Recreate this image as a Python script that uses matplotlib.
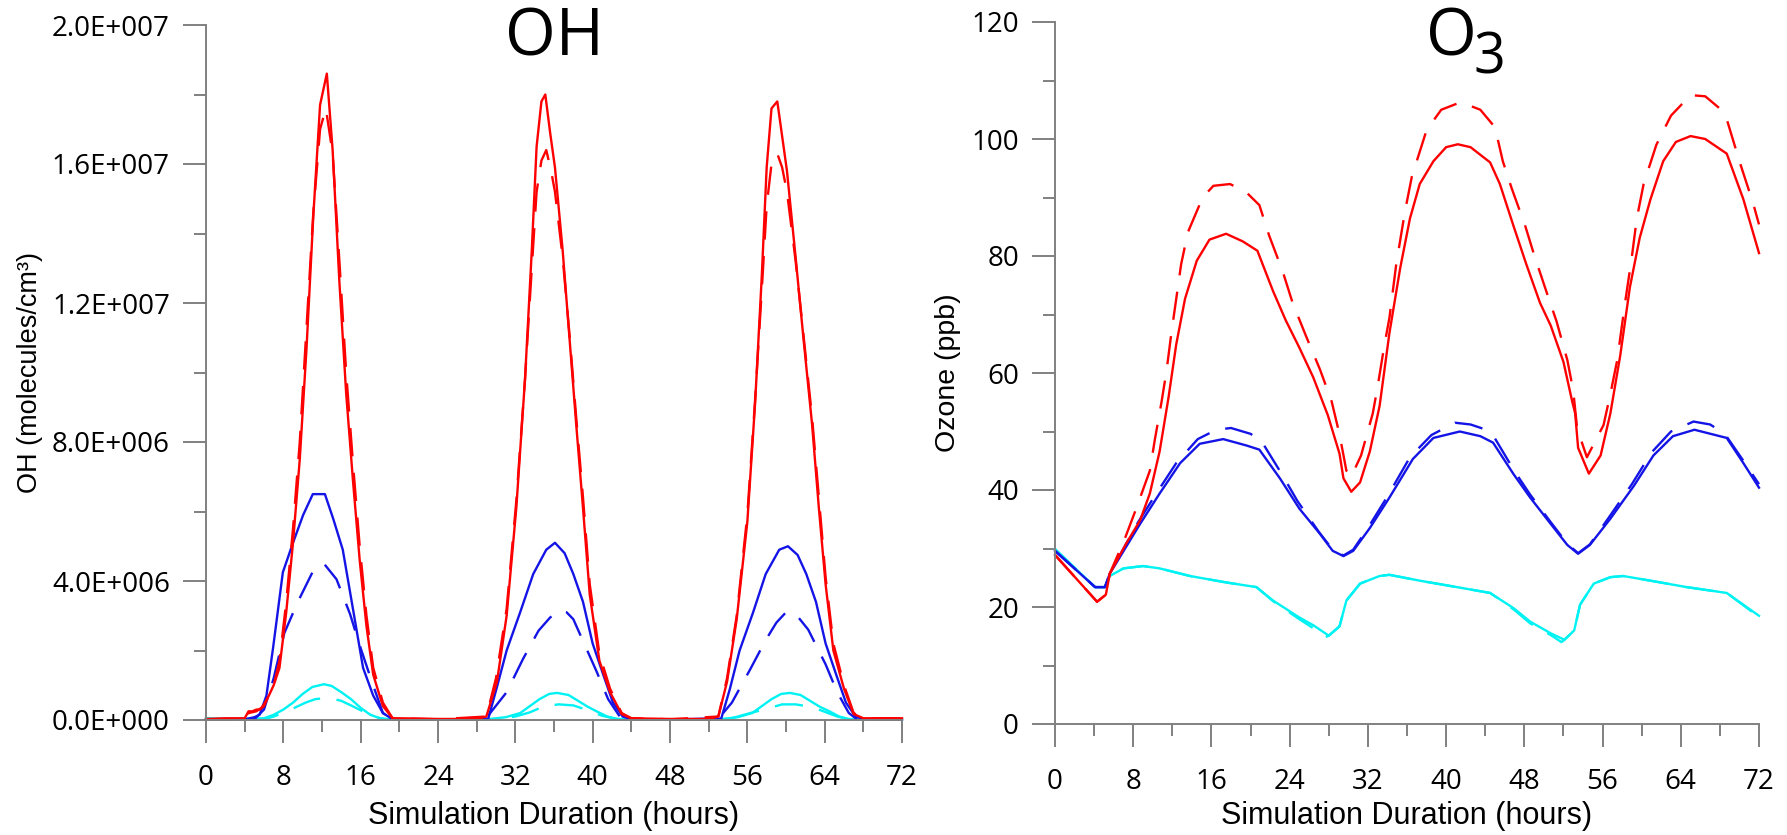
import numpy as np
import matplotlib
matplotlib.use('Agg')
import matplotlib.pyplot as plt
from matplotlib.ticker import MultipleLocator, FuncFormatter

oh_red_solid = [(0, 0.03), (2, 0.05), (4, 0.05), (4.4, 0.25), (4.8, 0.25), (5.2, 0.3), (5.6, 0.3),
                (6.0, 0.45), (6.5, 0.7), (7.0, 1.0), (7.6, 1.5), (8.3, 3.1), (9.0, 5.1), (9.7, 7.5),
                (10.4, 10.7), (11.1, 14.5), (11.8, 17.7), (12.5, 18.6), (13.1, 16.4), (13.8, 12.6),
                (14.5, 9.4), (15.2, 6.9), (15.9, 4.6), (16.6, 2.7), (17.3, 1.3), (18.3, 0.4), (19.3, 0.05),
                (20, 0.05), (24, 0.03), (28, 0.03), (29, 0.1), (30.1, 1.1), (31.1, 3.0), (32.1, 6.1),
                (33.0, 9.8), (33.7, 13.5), (34.2, 16.5), (34.7, 17.8), (35.1, 18.0), (35.6, 16.9),
                (36.1, 15.9), (36.9, 13.5), (37.6, 11.0), (38.3, 8.5), (39.0, 6.1), (39.7, 3.6),
                (40.7, 1.7), (41.8, 0.8), (43.0, 0.17), (44, 0.05), (48, 0.03), (52, 0.03), (53.0, 0.1),
                (53.9, 1.1), (54.9, 2.9), (56.0, 5.7), (56.8, 9.1), (57.5, 12.8), (58.0, 15.9), (58.5, 17.6),
                (59.1, 17.8), (59.6, 16.8), (60.1, 15.8), (61.0, 13.3), (61.8, 11.0), (62.7, 8.5),
                (63.4, 6.1), (64.1, 3.9), (64.9, 2.0), (66.0, 0.9), (67.0, 0.17), (68, 0.05), (72, 0.05)]
oh_red_dash = [(0, 0.02), (4, 0.02), (4.4, 0.2), (5.2, 0.25), (6, 0.4), (7, 1.0), (7.6, 1.7), (8.3, 3.4),
               (9, 5.5), (9.7, 8.0), (10.4, 11.3), (11.1, 14.6), (11.8, 17.0), (12.4, 17.6), (13.1, 16.3),
               (13.8, 13.2), (14.5, 10.0), (15.2, 7.4), (15.9, 5.0), (16.6, 3.0), (17.3, 1.5), (18.3, 0.5),
               (19.3, 0.05), (24, 0.02), (29, 0.1), (30, 1.2), (31.1, 3.2), (32.1, 6.3), (33, 9.8),
               (33.7, 13.0), (34.2, 15.2), (34.7, 16.1), (35.2, 16.4), (35.7, 15.8), (36.1, 15.2),
               (36.9, 13.3), (37.6, 11.1), (38.3, 8.7), (39, 6.4), (39.7, 3.9), (40.7, 1.9), (41.8, 0.9),
               (43, 0.2), (44, 0.05), (48, 0.02), (53, 0.1), (53.9, 1.2), (54.9, 3.0), (56, 5.9),
               (56.8, 9.2), (57.5, 12.4), (58, 14.8), (58.5, 16.0), (59.1, 16.3), (59.6, 15.9),
               (60.1, 15.2), (61, 13.2), (61.8, 11.1), (62.7, 8.7), (63.4, 6.4), (64.1, 4.1), (64.9, 2.2),
               (66, 1.0), (67, 0.2), (68, 0.05), (72, 0.05)]
oh_blue_solid = [(0, 0.02), (4, 0.02), (5, 0.08), (5.55, 0.15), (6.25, 0.7), (6.95, 2.1), (7.95, 4.25),
                 (9.0, 5.1), (10.05, 5.9), (11.05, 6.5), (12.3, 6.5), (13.15, 5.8), (14.15, 4.9),
                 (15.2, 3.2), (16.25, 1.5), (17.3, 0.7), (18.3, 0.2), (19.3, 0.02), (24, 0.01), (28, 0.01),
                 (29.2, 0.04), (30.05, 0.9), (31.1, 2.0), (32.5, 3.1), (33.85, 4.2), (35.2, 4.9),
                 (36.1, 5.1), (37.1, 4.8), (38.0, 4.2), (39.0, 3.4), (40.0, 2.2), (41.1, 1.3), (42.1, 0.5),
                 (43.1, 0.1), (44, 0.02), (48, 0.01), (52, 0.01), (53.3, 0.04), (54.2, 0.9), (55.2, 2.0),
                 (56.6, 3.1), (57.9, 4.2), (59.3, 4.9), (60.2, 5.0), (61.2, 4.75), (62.1, 4.2),
                 (63.1, 3.4), (64.1, 2.2), (65.2, 1.3), (66.2, 0.5), (67.2, 0.1), (68, 0.02), (72, 0.01)]
oh_blue_dash = [(0, 0.02), (5, 0.02), (6, 0.3), (7, 1.2), (8.1, 2.5), (9.5, 3.4), (11.1, 4.3), (12.2, 4.5),
                (13.5, 4.05), (14.9, 3.05), (15.9, 2.15), (17.1, 1.15), (18.3, 0.2), (19.3, 0.02),
                (24, 0.01), (29, 0.05), (29.4, 0.2), (31.1, 0.8), (32.8, 1.76), (34.4, 2.57), (35.6, 2.95),
                (36.6, 3.15), (37.3, 3.1), (38.0, 2.9), (38.8, 2.4), (40.4, 1.4), (41.6, 0.6), (42.8, 0.1),
                (44, 0.02), (48, 0.01), (53, 0.05), (53.5, 0.2), (54.4, 0.5), (56.3, 1.46), (57.9, 2.3),
                (59.0, 2.8), (60.0, 3.1), (61.0, 3.05), (62.3, 2.6), (64.1, 1.6), (65.3, 0.8),
                (66.5, 0.2), (67.3, 0.03), (72, 0.01)]
oh_cyan_solid = [(0, 0.05), (4, 0.03), (6, 0.05), (7, 0.15), (8, 0.3), (9, 0.5), (10, 0.75), (11, 0.95),
                 (12.2, 1.03), (13, 0.98), (14, 0.8), (15, 0.6), (16, 0.35), (17, 0.15), (18, 0.05),
                 (19, 0.02), (24, 0.01), (29, 0.02), (31, 0.08), (32.5, 0.2), (33.5, 0.4), (34.5, 0.6),
                 (35.5, 0.75), (36.3, 0.78), (37.5, 0.72), (38.5, 0.55), (39.5, 0.38), (40.4, 0.25),
                 (41.5, 0.1), (42.5, 0.03), (43.5, 0.01), (48, 0.01), (53, 0.02), (55, 0.08), (56.5, 0.2),
                 (57.5, 0.4), (58.5, 0.6), (59.5, 0.75), (60.4, 0.78), (61.5, 0.72), (62.5, 0.55),
                 (63.5, 0.38), (64.5, 0.25), (65.5, 0.1), (66.5, 0.03), (67.5, 0.01), (72, 0.01)]
oh_cyan_dash = [(0, 0.02), (6, 0.02), (7, 0.1), (8, 0.2), (9, 0.33), (10.3, 0.5), (11.3, 0.6), (12.3, 0.63),
                (13.3, 0.6), (14, 0.55), (15, 0.42), (16, 0.28), (17, 0.15), (18, 0.05), (19, 0.01),
                (24, 0.01), (30, 0.02), (32, 0.1), (33.5, 0.22), (35, 0.4), (36.5, 0.45), (38, 0.42),
                (39.5, 0.28), (41, 0.12), (42.5, 0.03), (48, 0.01), (54, 0.02), (56.3, 0.2), (58, 0.32),
                (59.6, 0.45), (61, 0.45), (62.5, 0.38), (63.4, 0.3), (65.3, 0.1), (66.5, 0.02), (72, 0.01)]

o3_red_solid = [(0, 28.9), (4.3, 20.9), (5.2, 22.1), (5.6, 25.7), (7.3, 30.9), (8.7, 34.8), (9.7, 39.4),
                (10.7, 46.6), (11.6, 55.7), (12.4, 64.9), (13.3, 72.7), (14.5, 79.2), (15.8, 82.8),
                (17.5, 83.8), (19.2, 82.5), (20.7, 80.9), (22.3, 74.0), (23.6, 69.0), (25.0, 64.3),
                (26.4, 59.3), (27.9, 52.8), (29.1, 46.2), (29.5, 42.0), (30.3, 39.7), (31.2, 41.3),
                (32.2, 46.6), (33.2, 54.4), (34.2, 66.8), (35.3, 77.9), (36.3, 86.4), (37.3, 92.3),
                (38.7, 96.2), (40, 98.6), (41.2, 99.1), (42.5, 98.6), (44.5, 96.0), (45.5, 92.3),
                (46.9, 85.1), (48.2, 78.6), (49.6, 72.0), (50.7, 68.1), (52.0, 61.9), (52.9, 55.1),
                (53.2, 53.1), (53.5, 47.2), (54.6, 42.8), (55.8, 45.9), (56.8, 53.1), (57.8, 62.9),
                (58.8, 74.7), (59.8, 83.1), (60.9, 89.7), (62.2, 96.2), (63.5, 99.5), (65, 100.5),
                (66.5, 100.0), (68.7, 97.5), (70.4, 89.7), (72, 80.5)]
o3_red_dash = [(0, 28.9), (4.3, 20.9), (5.2, 22.1), (5.6, 25.7), (7.1, 31.5), (8.3, 36.8), (9.7, 43.3),
               (10.2, 48.5), (10.9, 55.1), (11.4, 60.3), (11.9, 66.8), (12.4, 72.7), (12.9, 78.6),
               (13.6, 84.1), (15.1, 90.0), (16.2, 92.0), (17.9, 92.3), (19.5, 91.0), (20.9, 88.7),
               (21.9, 83.5), (23.3, 77.3), (24.3, 72.0), (25.7, 66.2), (27.1, 60.6), (28.3, 55.1),
               (29.1, 49.5), (29.8, 43.3), (30.3, 42.3), (31.3, 45.9), (32.5, 53.1), (33.0, 57.7),
               (33.7, 64.9), (34.2, 69.4), (34.9, 78.6), (35.8, 87.7), (36.5, 93.6), (38, 101.5),
               (39.5, 105.0), (41.5, 106.3), (43.5, 105.0), (45, 102.0), (45.8, 96.2), (46.7, 91.6),
               (48.1, 85.1), (49.0, 80.2), (50.3, 73.7), (51.3, 68.8), (52.4, 62.2), (53.0, 57.0),
               (53.4, 50.5), (54.4, 45.6), (56.1, 51.1), (56.8, 56.4), (57.5, 62.2), (58.3, 72.0),
               (59.0, 79.9), (59.5, 86.4), (60.2, 92.3), (61.5, 99.0), (63, 104.0), (65, 107.5),
               (66.5, 107.3), (68.5, 104.5), (70.0, 96.2), (71.4, 89.0), (72, 85.4)]
o3_blue_solid = [(0, 29.6), (4.1, 23.4), (5.1, 23.4), (5.6, 25.7), (8.7, 34.2), (10.7, 39.4), (12.8, 44.6),
                 (14.8, 47.9), (17.2, 48.7), (19.6, 47.6), (20.9, 46.9), (23.0, 42.0), (25.0, 36.8),
                 (27.1, 32.5), (28.4, 29.6), (29.5, 28.7), (30.5, 29.6), (32.2, 33.5), (34.2, 38.7),
                 (36.6, 45.3), (38.7, 48.9), (41.4, 50.0), (43.5, 49.2), (44.8, 48.1), (46.9, 42.7),
                 (48.6, 38.7), (50.7, 34.2), (52.4, 30.6), (53.5, 29.1), (54.7, 30.6), (56.8, 35.1),
                 (59.2, 40.7), (61.2, 45.9), (63.2, 49.2), (65.4, 50.3), (68.7, 48.9), (70.4, 44.6),
                 (72, 40.4)]
o3_blue_dash = [(0, 29.6), (4.1, 23.4), (5.1, 23.4), (5.6, 25.7), (8.5, 34.5), (10.4, 39.5), (12.4, 44.6),
                (14.6, 48.7), (16.5, 50.3), (18.0, 50.6), (20, 49.6), (21.1, 48.4), (23.2, 42.7),
                (24.8, 38.1), (27, 32.8), (28.4, 29.8), (29.5, 28.8), (30.5, 29.8), (32, 33.5), (34, 38.9),
                (36.3, 45.6), (38.5, 49.4), (40.9, 51.5), (42.5, 51.2), (44.1, 50.3), (45, 48.8),
                (47, 43.2), (48.6, 39.2), (50.7, 34.5), (52.4, 30.8), (53.5, 29.2), (54.7, 30.7),
                (56.6, 35.2), (59, 41.0), (61, 46.4), (63, 50.0), (65.3, 51.7), (67, 51.2), (68.5, 49.6),
                (70.4, 45.0), (72, 41.0)]
o3_cyan_solid = [(0, 29.9), (4.1, 23.4), (5.1, 23.4), (5.6, 25.3), (7.0, 26.6), (9.0, 27.0), (10.7, 26.6),
                 (13.8, 25.3), (17.5, 24.2), (20.6, 23.4), (22.3, 21.1), (25.0, 18.2), (26.4, 16.9),
                 (28.0, 15.1), (29.1, 16.7), (29.8, 21.1), (31.2, 24.0), (33.2, 25.3), (34.2, 25.5),
                 (37.3, 24.5), (41.1, 23.4), (44.5, 22.4), (46.9, 19.8), (48.6, 17.5), (50.7, 15.5),
                 (52.1, 14.4), (53.1, 16.0), (53.7, 20.4), (55.1, 24.0), (56.8, 25.1), (58.1, 25.3),
                 (60.9, 24.5), (64.6, 23.4), (68.7, 22.4), (72, 18.5)]
o3_cyan_dash = [(0, 29.9), (4.1, 23.4), (5.1, 23.4), (5.6, 25.3), (7.0, 26.6), (9.0, 27.0), (10.7, 26.6),
                (13.8, 25.3), (17.5, 24.2), (20.6, 23.4), (22.3, 21.0), (25.0, 17.9), (26.4, 16.4),
                (27.6, 14.8), (28.0, 15.1), (29.1, 16.7), (29.8, 21.1), (31.2, 24.0), (33.2, 25.3),
                (34.2, 25.5), (37.3, 24.5), (41.1, 23.4), (44.5, 22.4), (46.9, 19.6), (48.6, 17.2),
                (50.7, 15.2), (51.8, 14.0), (52.1, 14.4), (53.1, 16.0), (53.7, 20.4), (55.1, 24.0),
                (56.8, 25.1), (58.1, 25.3), (60.9, 24.5), (64.6, 23.4), (68.7, 22.4), (72, 18.3)]

RED = '#ff0000'
BLUE = '#1414e6'
CYAN = '#00f2f2'
GRAY = '#808080'
DASH = (12, 7)
TICKFONT = 'Open Sans'
LABELFONT = 'Liberation Sans'

fig = plt.figure(figsize=(17.87, 8.35), dpi=100)
W, H = 1787, 835


def px_axes(x0, x1, ytop, ybot):
    return fig.add_axes([x0 / W, (H - ybot) / H, (x1 - x0) / W, (ybot - ytop) / H])


def draw(ax, series, scale=1.0):
    for pts, color, dashed in series:
        arr = np.array(pts, dtype=float)
        kw = dict(color=color, lw=1.7, clip_on=False, solid_joinstyle='round')
        if dashed:
            kw['dashes'] = DASH
        ax.plot(arr[:, 0], arr[:, 1] * scale, **kw)


def style(ax, ymajor, yminor):
    for s in ('top', 'right'):
        ax.spines[s].set_visible(False)
    for s in ('left', 'bottom'):
        ax.spines[s].set_color(GRAY)
        ax.spines[s].set_linewidth(1.4)
    ax.set_xlim(0, 72)
    ax.xaxis.set_major_locator(MultipleLocator(8))
    ax.xaxis.set_minor_locator(MultipleLocator(4))
    ax.yaxis.set_major_locator(MultipleLocator(ymajor))
    ax.yaxis.set_minor_locator(MultipleLocator(yminor))
    ax.tick_params(which='major', direction='out', length=16.5, width=1.4, color=GRAY)
    ax.tick_params(which='minor', direction='out', length=8.5, width=1.4, color=GRAY)
    ax.tick_params(axis='x', which='major', pad=15.5)
    ax.tick_params(axis='y', which='major', pad=9.5)
    for lab in ax.get_xticklabels() + ax.get_yticklabels():
        lab.set_fontfamily(TICKFONT)
        lab.set_fontsize(20)


def sci_label(v, pos):
    if v == 0:
        return '0.0E+000'
    e = int(np.floor(np.log10(abs(v)) + 1e-9))
    return f'{v / 10 ** e:.1f}E+{e:03d}'


# OH panel
ax1 = px_axes(206, 902, 25, 720)
draw(ax1, [(oh_cyan_solid, CYAN, False), (oh_cyan_dash, CYAN, True),
           (oh_blue_solid, BLUE, False), (oh_blue_dash, BLUE, True),
           (oh_red_solid, RED, False), (oh_red_dash, RED, True)], scale=1e6)
ax1.set_ylim(0, 2e7)
ax1.yaxis.set_major_formatter(FuncFormatter(sci_label))
style(ax1, 4e6, 2e6)
ax1.set_xlabel('Simulation Duration (hours)', fontfamily=LABELFONT, fontsize=22, va='top')
ax1.xaxis.set_label_coords(0.5, -0.116)
ax1.set_ylabel('OH (molecules/cm³)', fontfamily=LABELFONT, fontsize=19.5, va='center')
ax1.yaxis.set_label_coords(-0.253, 0.5)

# O3 panel
ax2 = px_axes(1055, 1759, 22, 724)
draw(ax2, [(o3_cyan_solid, CYAN, False), (o3_cyan_dash, CYAN, True),
           (o3_blue_solid, BLUE, False), (o3_blue_dash, BLUE, True),
           (o3_red_solid, RED, False), (o3_red_dash, RED, True)])
ax2.set_ylim(0, 120)
style(ax2, 20, 10)
ax2.set_xlabel('Simulation Duration (hours)', fontfamily=LABELFONT, fontsize=22, va='top')
ax2.xaxis.set_label_coords(0.5, -0.109)
ax2.set_ylabel('Ozone (ppb)', fontfamily=LABELFONT, fontsize=20.5, va='center')
ax2.yaxis.set_label_coords(-0.152, 0.5)

# panel titles
fig.text(554 / W, 1 - 56 / H, 'OH', fontfamily=TICKFONT, fontsize=47, ha='center', va='baseline')
fig.text(1426 / W, 1 - 56 / H, 'O', fontfamily=TICKFONT, fontsize=47, ha='left', va='baseline')
fig.text(1474 / W, 1 - 73 / H, '3', fontfamily=TICKFONT, fontsize=40, ha='left', va='baseline')

fig.savefig('out.png', dpi=100)
